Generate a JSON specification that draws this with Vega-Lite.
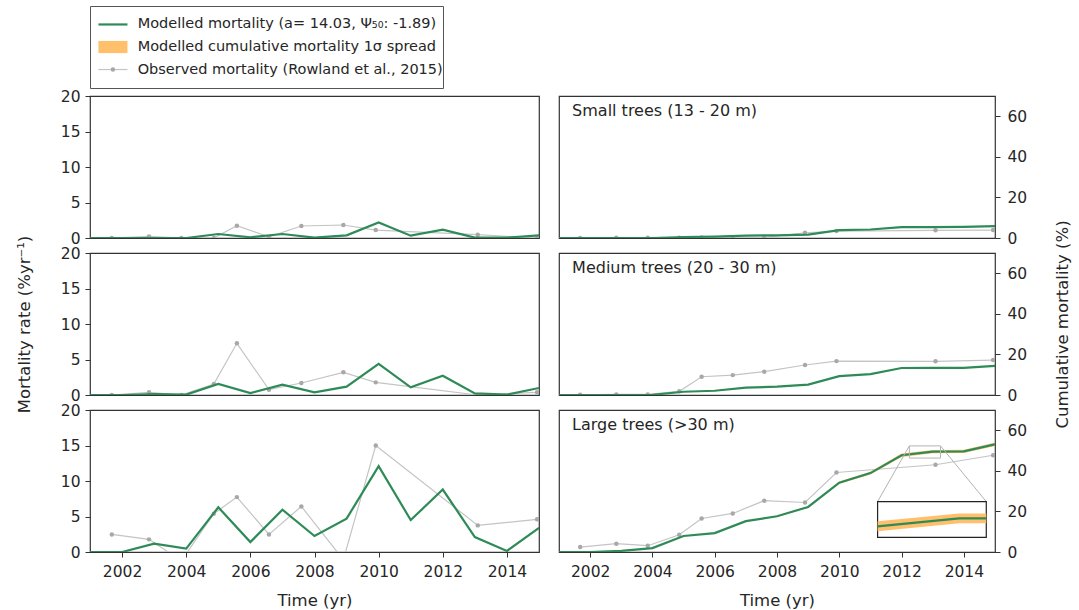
{
  "$schema": "https://vega.github.io/schema/vega-lite/v6.json",
  "background": "white",
  "padding": {"left": 15, "top": 5, "right": 0, "bottom": 0},
  "config": {
    "font": "DejaVu Sans",
    "view": {"stroke": "#333", "strokeWidth": 1.2},
    "axis": {"domain": false, "grid": false, "ticks": true, "tickColor": "#333", "tickSize": 5, "tickWidth": 1, "labelFont": "DejaVu Sans", "labelFontSize": 15.5, "labelColor": "#262626", "labelPadding": 5, "titleFont": "DejaVu Sans", "titleFontSize": 16.5, "titleFontWeight": "normal", "titleColor": "#262626"},
    "axisX": {"titlePadding": 13, "labelPadding": 7}
  },
  "datasets": {
    "model": [
      {"size": "Small", "t": 2001, "rate": 0, "cum": 0},
      {"size": "Small", "t": 2002, "rate": 0, "cum": 0},
      {"size": "Small", "t": 2003, "rate": 0, "cum": 0},
      {"size": "Small", "t": 2004, "rate": 0, "cum": 0},
      {"size": "Small", "t": 2005, "rate": 0.56, "cum": 0.5},
      {"size": "Small", "t": 2006, "rate": 0.1, "cum": 0.7},
      {"size": "Small", "t": 2007, "rate": 0.56, "cum": 1.2},
      {"size": "Small", "t": 2008, "rate": 0.05, "cum": 1.3},
      {"size": "Small", "t": 2009, "rate": 0.37, "cum": 1.7},
      {"size": "Small", "t": 2010, "rate": 2.2, "cum": 3.9},
      {"size": "Small", "t": 2011, "rate": 0.33, "cum": 4.2},
      {"size": "Small", "t": 2012, "rate": 1.17, "cum": 5.4},
      {"size": "Small", "t": 2013, "rate": 0.05, "cum": 5.4},
      {"size": "Small", "t": 2014, "rate": 0.05, "cum": 5.5},
      {"size": "Small", "t": 2015, "rate": 0.37, "cum": 5.9},
      {"size": "Medium", "t": 2001, "rate": 0, "cum": 0},
      {"size": "Medium", "t": 2002, "rate": 0, "cum": 0},
      {"size": "Medium", "t": 2003, "rate": 0.14, "cum": 0},
      {"size": "Medium", "t": 2004, "rate": 0.05, "cum": 0.1},
      {"size": "Medium", "t": 2005, "rate": 1.55, "cum": 1.6},
      {"size": "Medium", "t": 2006, "rate": 0.28, "cum": 2.1},
      {"size": "Medium", "t": 2007, "rate": 1.45, "cum": 3.6},
      {"size": "Medium", "t": 2008, "rate": 0.38, "cum": 4.1},
      {"size": "Medium", "t": 2009, "rate": 1.17, "cum": 5.1},
      {"size": "Medium", "t": 2010, "rate": 4.37, "cum": 9.3},
      {"size": "Medium", "t": 2011, "rate": 1.08, "cum": 10.3},
      {"size": "Medium", "t": 2012, "rate": 2.72, "cum": 13.3},
      {"size": "Medium", "t": 2013, "rate": 0.23, "cum": 13.4},
      {"size": "Medium", "t": 2014, "rate": 0.05, "cum": 13.4},
      {"size": "Medium", "t": 2015, "rate": 0.99, "cum": 14.4},
      {"size": "Large", "t": 2001, "rate": 0, "cum": 0, "lo": 0, "hi": 0},
      {"size": "Large", "t": 2002, "rate": 0, "cum": 0, "lo": 0, "hi": 0},
      {"size": "Large", "t": 2003, "rate": 1.17, "cum": 0.6, "lo": 0.59, "hi": 0.61},
      {"size": "Large", "t": 2004, "rate": 0.47, "cum": 1.9, "lo": 1.87, "hi": 1.93},
      {"size": "Large", "t": 2005, "rate": 6.3, "cum": 7.9, "lo": 7.77, "hi": 8.03},
      {"size": "Large", "t": 2006, "rate": 1.4, "cum": 9.3, "lo": 9.14, "hi": 9.46},
      {"size": "Large", "t": 2007, "rate": 5.95, "cum": 15.2, "lo": 14.94, "hi": 15.46},
      {"size": "Large", "t": 2008, "rate": 2.25, "cum": 17.6, "lo": 17.3, "hi": 17.9},
      {"size": "Large", "t": 2009, "rate": 4.7, "cum": 22.2, "lo": 21.82, "hi": 22.58},
      {"size": "Large", "t": 2010, "rate": 12.1, "cum": 34.2, "lo": 33.62, "hi": 34.78},
      {"size": "Large", "t": 2011, "rate": 4.5, "cum": 38.9, "lo": 38.24, "hi": 39.56},
      {"size": "Large", "t": 2012, "rate": 8.8, "cum": 47.7, "lo": 46.89, "hi": 48.51},
      {"size": "Large", "t": 2013, "rate": 2.1, "cum": 49.5, "lo": 48.66, "hi": 50.34},
      {"size": "Large", "t": 2014, "rate": 0.15, "cum": 49.6, "lo": 48.76, "hi": 50.44},
      {"size": "Large", "t": 2015, "rate": 3.4, "cum": 53.1, "lo": 52.2, "hi": 54.0}
    ],
    "obs": [
      {"size": "Small", "t": 2001.68, "rate": 0, "cum": 0},
      {"size": "Small", "t": 2002.84, "rate": 0.23, "cum": 0.1},
      {"size": "Small", "t": 2003.85, "rate": 0, "cum": 0.1},
      {"size": "Small", "t": 2004.86, "rate": 0, "cum": 0.1},
      {"size": "Small", "t": 2005.58, "rate": 1.73, "cum": 0.2},
      {"size": "Small", "t": 2006.58, "rate": 0.15, "cum": 0.2},
      {"size": "Small", "t": 2007.59, "rate": 1.69, "cum": 0.3},
      {"size": "Small", "t": 2008.9, "rate": 1.83, "cum": 2.6},
      {"size": "Small", "t": 2009.91, "rate": 1.12, "cum": 3.4},
      {"size": "Small", "t": 2013.09, "rate": 0.47, "cum": 3.8},
      {"size": "Small", "t": 2014.94, "rate": 0, "cum": 3.9},
      {"size": "Medium", "t": 2001.68, "rate": 0, "cum": 0.1},
      {"size": "Medium", "t": 2002.84, "rate": 0.38, "cum": 0.3},
      {"size": "Medium", "t": 2003.85, "rate": 0, "cum": 0.3},
      {"size": "Medium", "t": 2004.86, "rate": 1.55, "cum": 1.8},
      {"size": "Medium", "t": 2005.58, "rate": 7.28, "cum": 9.0},
      {"size": "Medium", "t": 2006.58, "rate": 0.75, "cum": 9.8},
      {"size": "Medium", "t": 2007.59, "rate": 1.69, "cum": 11.5},
      {"size": "Medium", "t": 2008.9, "rate": 3.19, "cum": 14.8},
      {"size": "Medium", "t": 2009.91, "rate": 1.78, "cum": 16.7},
      {"size": "Medium", "t": 2013.09, "rate": 0, "cum": 16.6},
      {"size": "Medium", "t": 2014.94, "rate": 0.38, "cum": 17.2},
      {"size": "Large", "t": 2001.68, "rate": 2.48, "cum": 2.45},
      {"size": "Large", "t": 2002.84, "rate": 1.78, "cum": 4.1},
      {"size": "Large", "t": 2003.85, "rate": -1.23, "cum": 3.1},
      {"size": "Large", "t": 2004.86, "rate": 5.4, "cum": 8.5},
      {"size": "Large", "t": 2005.58, "rate": 7.73, "cum": 16.5},
      {"size": "Large", "t": 2006.58, "rate": 2.48, "cum": 19.0},
      {"size": "Large", "t": 2007.59, "rate": 6.42, "cum": 25.3},
      {"size": "Large", "t": 2008.9, "rate": -1.08, "cum": 24.4},
      {"size": "Large", "t": 2009.91, "rate": 15.0, "cum": 39.2},
      {"size": "Large", "t": 2013.09, "rate": 3.75, "cum": 43.0},
      {"size": "Large", "t": 2014.94, "rate": 4.6, "cum": 47.7}
    ],
    "inset": [
      {"t": 2011.23, "mid": 12.64, "lo": 10.2, "hi": 15.1},
      {"t": 2013.85, "mid": 16.6, "lo": 14.2, "hi": 19.0},
      {"t": 2014.72, "mid": 16.6, "lo": 14.2, "hi": 19.0}
    ],
    "panels": [
      {"size": "Small", "label": "Small trees (13 - 20 m)"},
      {"size": "Medium", "label": "Medium trees (20 - 30 m)"},
      {"size": "Large", "label": "Large trees (>30 m)"}
    ],
    "legend": [
      {"order": 1, "label": "Modelled mortality (a= 14.03, Ψ₅₀: -1.89)"},
      {"order": 2, "label": "Modelled cumulative mortality 1σ spread"},
      {"order": 3, "label": "Observed mortality (Rowland et al., 2015)"}
    ]
  },
  "spacing": 8,
  "bounds": "flush",
  "vconcat": [
    {
      "width": 353, "height": 82,
      "view": {"stroke": "#555", "strokeWidth": 1},
      "data": {"name": "legend"},
      "encoding": {"y": {"field": "label", "type": "nominal", "sort": {"field": "order", "op": "min"}, "scale": {"type": "point", "padding": 0.82}, "axis": null}},
      "layer": [
        {"transform": [{"filter": "datum.order == 1"}], "mark": {"type": "point", "shape": "M-1,0H1", "size": 841, "stroke": "#2e8b57", "strokeWidth": 2.2, "filled": false, "opacity": 1},
         "encoding": {"x": {"datum": 6.5, "type": "quantitative", "scale": {"domain": [0, 100]}, "axis": null}}},
        {"transform": [{"filter": "datum.order == 2"}], "mark": {"type": "point", "shape": "M-1,-0.42H1V0.42H-1Z", "size": 841, "fill": "#ffbf6b", "filled": true, "strokeWidth": 0, "opacity": 1},
         "encoding": {"x": {"datum": 6.5, "type": "quantitative", "scale": {"domain": [0, 100]}, "axis": null}}},
        {"transform": [{"filter": "datum.order == 3"}], "mark": {"type": "point", "shape": "M-1,0H1", "size": 841, "stroke": "#c4c4c4", "strokeWidth": 1.2, "filled": false, "opacity": 1},
         "encoding": {"x": {"datum": 6.5, "type": "quantitative", "scale": {"domain": [0, 100]}, "axis": null}}},
        {"transform": [{"filter": "datum.order == 3"}], "mark": {"type": "point", "shape": "circle", "size": 20, "fill": "#a8a8a8", "filled": true, "opacity": 1},
         "encoding": {"x": {"datum": 6.5, "type": "quantitative", "scale": {"domain": [0, 100]}, "axis": null}}},
        {"mark": {"type": "text", "align": "left", "baseline": "middle", "font": "DejaVu Sans", "fontSize": 14.5, "color": "#262626"},
         "encoding": {"x": {"datum": 13.5, "type": "quantitative", "scale": {"domain": [0, 100]}, "axis": null}, "text": {"field": "label"}}}
      ]
    },
    {
      "spacing": 18,
      "bounds": "full",
      "hconcat": [
        {
          "spacing": 15,
          "bounds": "flush",
          "vconcat": [
            {
              "width": 449, "height": 142,
              "encoding": {
                "x": {"field": "t", "type": "quantitative", "scale": {"domain": [2001, 2015], "nice": false, "zero": false}, "axis": null},
                "y": {"field": "rate", "type": "quantitative", "scale": {"domain": [0, 20], "nice": false}, "axis": {"values": [0, 5, 10, 15, 20], "title": null}}
              },
              "layer": [
                {"data": {"name": "obs"}, "transform": [{"filter": "datum.size === 'Small'"}], "mark": {"type": "line", "color": "#c4c4c4", "strokeWidth": 1.2, "clip": true}},
                {"data": {"name": "obs"}, "transform": [{"filter": "datum.size === 'Small'"}], "mark": {"type": "point", "filled": true, "color": "#a8a8a8", "size": 20, "opacity": 1, "clip": true}},
                {"data": {"name": "model"}, "transform": [{"filter": "datum.size === 'Small'"}], "mark": {"type": "line", "color": "#2e8b57", "strokeWidth": 2.2, "clip": true}}
              ]
            },
            {
              "width": 449, "height": 142,
              "encoding": {
                "x": {"field": "t", "type": "quantitative", "scale": {"domain": [2001, 2015], "nice": false, "zero": false}, "axis": null},
                "y": {"field": "rate", "type": "quantitative", "scale": {"domain": [0, 20], "nice": false}, "axis": {"values": [0, 5, 10, 15, 20], "title": "Mortality rate (%yr⁻¹)", "titlePadding": 28}}
              },
              "layer": [
                {"data": {"name": "obs"}, "transform": [{"filter": "datum.size === 'Medium'"}], "mark": {"type": "line", "color": "#c4c4c4", "strokeWidth": 1.2, "clip": true}},
                {"data": {"name": "obs"}, "transform": [{"filter": "datum.size === 'Medium'"}], "mark": {"type": "point", "filled": true, "color": "#a8a8a8", "size": 20, "opacity": 1, "clip": true}},
                {"data": {"name": "model"}, "transform": [{"filter": "datum.size === 'Medium'"}], "mark": {"type": "line", "color": "#2e8b57", "strokeWidth": 2.2, "clip": true}}
              ]
            },
            {
              "width": 449, "height": 142,
              "encoding": {
                "x": {"field": "t", "type": "quantitative", "scale": {"domain": [2001, 2015], "nice": false, "zero": false}, "axis": {"values": [2002, 2004, 2006, 2008, 2010, 2012, 2014], "format": "d", "title": "Time (yr)"}},
                "y": {"field": "rate", "type": "quantitative", "scale": {"domain": [0, 20], "nice": false}, "axis": {"values": [0, 5, 10, 15, 20], "title": null}}
              },
              "layer": [
                {"data": {"name": "obs"}, "transform": [{"filter": "datum.size === 'Large'"}], "mark": {"type": "line", "color": "#c4c4c4", "strokeWidth": 1.2, "clip": true}},
                {"data": {"name": "obs"}, "transform": [{"filter": "datum.size === 'Large'"}], "mark": {"type": "point", "filled": true, "color": "#a8a8a8", "size": 20, "opacity": 1, "clip": true}},
                {"data": {"name": "model"}, "transform": [{"filter": "datum.size === 'Large'"}], "mark": {"type": "line", "color": "#2e8b57", "strokeWidth": 2.2, "clip": true}}
              ]
            }
          ]
        },
        {
          "spacing": 15,
          "bounds": "flush",
          "vconcat": [
            {
              "width": 436, "height": 142,
              "layer": [
                {
                  "encoding": {
                    "x": {"field": "t", "type": "quantitative", "scale": {"domain": [2001, 2015], "nice": false, "zero": false}, "axis": null},
                    "y": {"field": "cum", "type": "quantitative", "scale": {"domain": [0, 70], "nice": false}, "axis": {"orient": "right", "values": [0, 20, 40, 60], "title": null, "labelPadding": 7}}
                  },
                  "layer": [
                    {"data": {"name": "obs"}, "transform": [{"filter": "datum.size === 'Small'"}], "mark": {"type": "line", "color": "#c4c4c4", "strokeWidth": 1.2, "clip": true}},
                    {"data": {"name": "obs"}, "transform": [{"filter": "datum.size === 'Small'"}], "mark": {"type": "point", "filled": true, "color": "#a8a8a8", "size": 20, "opacity": 1, "clip": true}},
                    {"data": {"name": "model"}, "transform": [{"filter": "datum.size === 'Small'"}], "mark": {"type": "line", "color": "#2e8b57", "strokeWidth": 2.2, "clip": true}}
                  ]
                },
                {"data": {"name": "panels"}, "transform": [{"filter": "datum.size === 'Small'"}], "mark": {"type": "text", "align": "left", "baseline": "middle", "font": "DejaVu Sans", "fontSize": 16, "color": "#262626"},
                 "encoding": {
                   "x": {"datum": 2001.42, "type": "quantitative", "scale": {"domain": [2001, 2015], "nice": false, "zero": false}, "axis": null},
                   "y": {"datum": 62.6, "type": "quantitative", "scale": {"domain": [0, 70], "nice": false}, "axis": {"orient": "right", "values": [0, 20, 40, 60], "title": null, "labelPadding": 7}},
                   "text": {"field": "label"}}}
              ]
            },
            {
              "width": 436, "height": 142,
              "layer": [
                {
                  "encoding": {
                    "x": {"field": "t", "type": "quantitative", "scale": {"domain": [2001, 2015], "nice": false, "zero": false}, "axis": null},
                    "y": {"field": "cum", "type": "quantitative", "scale": {"domain": [0, 70], "nice": false}, "axis": {"orient": "right", "values": [0, 20, 40, 60], "title": "Cumulative mortality (%)", "titleAngle": 270, "titleBaseline": "bottom", "titlePadding": 44, "labelPadding": 7}}
                  },
                  "layer": [
                    {"data": {"name": "obs"}, "transform": [{"filter": "datum.size === 'Medium'"}], "mark": {"type": "line", "color": "#c4c4c4", "strokeWidth": 1.2, "clip": true}},
                    {"data": {"name": "obs"}, "transform": [{"filter": "datum.size === 'Medium'"}], "mark": {"type": "point", "filled": true, "color": "#a8a8a8", "size": 20, "opacity": 1, "clip": true}},
                    {"data": {"name": "model"}, "transform": [{"filter": "datum.size === 'Medium'"}], "mark": {"type": "line", "color": "#2e8b57", "strokeWidth": 2.2, "clip": true}}
                  ]
                },
                {"data": {"name": "panels"}, "transform": [{"filter": "datum.size === 'Medium'"}], "mark": {"type": "text", "align": "left", "baseline": "middle", "font": "DejaVu Sans", "fontSize": 16, "color": "#262626"},
                 "encoding": {
                   "x": {"datum": 2001.42, "type": "quantitative", "scale": {"domain": [2001, 2015], "nice": false, "zero": false}, "axis": null},
                   "y": {"datum": 62.6, "type": "quantitative", "scale": {"domain": [0, 70], "nice": false}, "axis": {"orient": "right", "values": [0, 20, 40, 60], "title": "Cumulative mortality (%)", "titleAngle": 270, "titleBaseline": "bottom", "titlePadding": 44, "labelPadding": 7}},
                   "text": {"field": "label"}}}
              ]
            },
            {
              "width": 436, "height": 142,
              "layer": [
                {
                  "encoding": {
                    "x": {"field": "t", "type": "quantitative", "scale": {"domain": [2001, 2015], "nice": false, "zero": false}, "axis": {"values": [2002, 2004, 2006, 2008, 2010, 2012, 2014], "format": "d", "title": "Time (yr)"}},
                    "y": {"field": "cum", "type": "quantitative", "scale": {"domain": [0, 70], "nice": false}, "axis": {"orient": "right", "values": [0, 20, 40, 60], "title": null, "labelPadding": 7}}
                  },
                  "layer": [
                    {"data": {"name": "obs"}, "transform": [{"filter": "datum.size === 'Large'"}], "mark": {"type": "line", "color": "#c4c4c4", "strokeWidth": 1.2, "clip": true}},
                    {"data": {"name": "obs"}, "transform": [{"filter": "datum.size === 'Large'"}], "mark": {"type": "point", "filled": true, "color": "#a8a8a8", "size": 20, "opacity": 1, "clip": true}},
                    {"data": {"name": "model"}, "transform": [{"filter": "datum.size === 'Large'"}], "mark": {"type": "area", "color": "#ffbf6b", "opacity": 1, "clip": true},
                     "encoding": {"y": {"field": "lo", "type": "quantitative"}, "y2": {"field": "hi"}}},
                    {"data": {"name": "model"}, "transform": [{"filter": "datum.size === 'Large'"}], "mark": {"type": "line", "color": "#2e8b57", "strokeWidth": 2.2, "clip": true}}
                  ]
                },
                {"data": {"name": "panels"}, "transform": [{"filter": "datum.size === 'Large'"}], "mark": {"type": "text", "align": "left", "baseline": "middle", "font": "DejaVu Sans", "fontSize": 16, "color": "#262626"},
                 "encoding": {
                   "x": {"datum": 2001.42, "type": "quantitative", "scale": {"domain": [2001, 2015], "nice": false, "zero": false}, "axis": {"values": [2002, 2004, 2006, 2008, 2010, 2012, 2014], "format": "d", "title": "Time (yr)"}},
                   "y": {"datum": 62.6, "type": "quantitative", "scale": {"domain": [0, 70], "nice": false}, "axis": {"orient": "right", "values": [0, 20, 40, 60], "title": null, "labelPadding": 7}},
                   "text": {"field": "label"}}},
                {"data": {"values": [{}]}, "mark": {"type": "rect", "fill": "white", "fillOpacity": 0, "stroke": "#b4b4b4", "strokeWidth": 1},
                 "encoding": {
                   "x": {"datum": 2012.25, "type": "quantitative", "scale": {"domain": [2001, 2015], "nice": false, "zero": false}, "axis": {"values": [2002, 2004, 2006, 2008, 2010, 2012, 2014], "format": "d", "title": "Time (yr)"}},
                   "x2": {"datum": 2013.25},
                   "y": {"datum": 46.3, "type": "quantitative", "scale": {"domain": [0, 70], "nice": false}, "axis": {"orient": "right", "values": [0, 20, 40, 60], "title": null, "labelPadding": 7}},
                   "y2": {"datum": 52.3}}},
                {"data": {"values": [{}]}, "mark": {"type": "rule", "stroke": "#b4b4b4", "strokeWidth": 1},
                 "encoding": {
                   "x": {"datum": 2012.25, "type": "quantitative", "scale": {"domain": [2001, 2015], "nice": false, "zero": false}, "axis": {"values": [2002, 2004, 2006, 2008, 2010, 2012, 2014], "format": "d", "title": "Time (yr)"}},
                   "x2": {"datum": 2011.23},
                   "y": {"datum": 52.3, "type": "quantitative", "scale": {"domain": [0, 70], "nice": false}, "axis": {"orient": "right", "values": [0, 20, 40, 60], "title": null, "labelPadding": 7}},
                   "y2": {"datum": 24.85}}},
                {"data": {"values": [{}]}, "mark": {"type": "rule", "stroke": "#b4b4b4", "strokeWidth": 1},
                 "encoding": {
                   "x": {"datum": 2013.25, "type": "quantitative", "scale": {"domain": [2001, 2015], "nice": false, "zero": false}, "axis": {"values": [2002, 2004, 2006, 2008, 2010, 2012, 2014], "format": "d", "title": "Time (yr)"}},
                   "x2": {"datum": 2014.72},
                   "y": {"datum": 52.3, "type": "quantitative", "scale": {"domain": [0, 70], "nice": false}, "axis": {"orient": "right", "values": [0, 20, 40, 60], "title": null, "labelPadding": 7}},
                   "y2": {"datum": 24.85}}},
                {"data": {"values": [{}]}, "mark": {"type": "rect", "fill": "white", "fillOpacity": 1, "stroke": "#222", "strokeWidth": 1.2},
                 "encoding": {
                   "x": {"datum": 2011.23, "type": "quantitative", "scale": {"domain": [2001, 2015], "nice": false, "zero": false}, "axis": {"values": [2002, 2004, 2006, 2008, 2010, 2012, 2014], "format": "d", "title": "Time (yr)"}},
                   "x2": {"datum": 2014.72},
                   "y": {"datum": 7.2, "type": "quantitative", "scale": {"domain": [0, 70], "nice": false}, "axis": {"orient": "right", "values": [0, 20, 40, 60], "title": null, "labelPadding": 7}},
                   "y2": {"datum": 24.85}}},
                {"data": {"name": "inset"}, "mark": {"type": "area", "color": "#ffbf6b", "opacity": 1},
                 "encoding": {
                   "x": {"field": "t", "type": "quantitative", "scale": {"domain": [2001, 2015], "nice": false, "zero": false}, "axis": {"values": [2002, 2004, 2006, 2008, 2010, 2012, 2014], "format": "d", "title": "Time (yr)"}},
                   "y": {"field": "lo", "type": "quantitative", "scale": {"domain": [0, 70], "nice": false}, "axis": {"orient": "right", "values": [0, 20, 40, 60], "title": null, "labelPadding": 7}},
                   "y2": {"field": "hi"}}},
                {"data": {"name": "inset"}, "mark": {"type": "line", "color": "#2e8b57", "strokeWidth": 2.2},
                 "encoding": {
                   "x": {"field": "t", "type": "quantitative", "scale": {"domain": [2001, 2015], "nice": false, "zero": false}, "axis": {"values": [2002, 2004, 2006, 2008, 2010, 2012, 2014], "format": "d", "title": "Time (yr)"}},
                   "y": {"field": "mid", "type": "quantitative", "scale": {"domain": [0, 70], "nice": false}, "axis": {"orient": "right", "values": [0, 20, 40, 60], "title": null, "labelPadding": 7}}}}
              ]
            }
          ]
        }
      ]
    }
  ]
}
